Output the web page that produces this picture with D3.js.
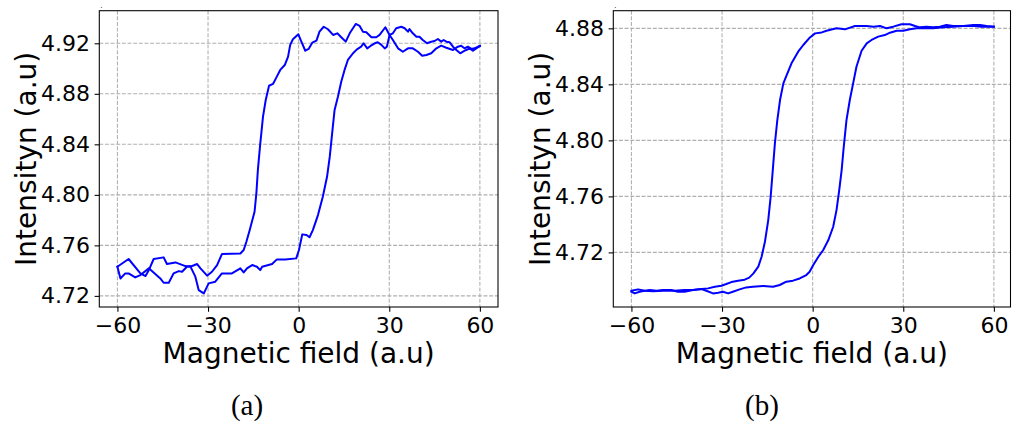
<!DOCTYPE html>
<html>
<head>
<meta charset="utf-8">
<script src="https://cdn.jsdelivr.net/npm/d3@7"></script>
<style>
  html, body { margin: 0; padding: 0; background: #ffffff; }
  svg { display: block; }
</style>
</head>
<body>
<div id="chart"></div>
<script>
// Hysteresis loops: intensity vs. magnetic field, two samples (a) and (b).

// ---- data -------------------------------------------------------------
const fieldTicks = [-60, -30, 0, 30, 60];
const intensityTicksA = [4.72, 4.76, 4.80, 4.84, 4.88, 4.92];
const intensityTicksB = [4.72, 4.76, 4.80, 4.84, 4.88];

// (a) rising sweep
const fieldA_rise = [-60.0, -59.0, -57.4, -56.3, -54.1, -52.4, -49.6, -45.8, -44.7, -43.0, -41.4, -39.7, -38.6, -37.0, -35.9, -34.2, -33.1, -31.4, -29.8, -27.6, -25.4, -22.1, -19.3, -18.2, -17.1, -15.4, -13.8, -12.7, -12.1, -8.8, -7.2, -4.4, -0.8, 0.1, 1.2, 2.6, 3.6, 4.7, 6.4, 8.0, 9.4, 10.3, 11.2, 11.9, 13.0, 14.1, 15.2, 16.3, 18.0, 19.3, 20.7, 21.5, 22.7, 23.8, 25.2, 26.2, 27.4, 28.5, 29.2, 30.1, 31.2, 32.3, 34.0, 35.1, 36.2, 36.7, 37.8, 39.0, 40.0, 41.1, 42.5, 43.9, 45.0, 46.1, 47.2, 48.0, 48.9, 50.0, 51.1, 52.2, 53.5, 54.4, 55.5, 56.6, 57.7, 58.8, 60.0];
const intensityA_rise = [4.7431, 4.7338, 4.7378, 4.7378, 4.7346, 4.7365, 4.7418, 4.7338, 4.7304, 4.7304, 4.7378, 4.7396, 4.7391, 4.7431, 4.7436, 4.7352, 4.7246, 4.7220, 4.7299, 4.7312, 4.7378, 4.7378, 4.7418, 4.7386, 4.7418, 4.7444, 4.7431, 4.7404, 4.7431, 4.7452, 4.7489, 4.7489, 4.7497, 4.7563, 4.7687, 4.7682, 4.7664, 4.7721, 4.7840, 4.7985, 4.8143, 4.8302, 4.8513, 4.8672, 4.8777, 4.8896, 4.8989, 4.9068, 4.9121, 4.9152, 4.9173, 4.9200, 4.9160, 4.9179, 4.9200, 4.9208, 4.9187, 4.9160, 4.9173, 4.9266, 4.9279, 4.9319, 4.9331, 4.9319, 4.9292, 4.9313, 4.9279, 4.9252, 4.9252, 4.9226, 4.9200, 4.9213, 4.9218, 4.9234, 4.9213, 4.9226, 4.9213, 4.9208, 4.9173, 4.9147, 4.9121, 4.9133, 4.9147, 4.9160, 4.9141, 4.9160, 4.9179];

// (a) falling sweep
const fieldA_fall = [-60.0, -56.3, -52.4, -50.7, -49.6, -48.0, -44.7, -43.6, -40.8, -37.5, -35.9, -33.6, -32.5, -30.3, -28.7, -27.0, -25.4, -19.3, -18.2, -17.3, -16.2, -14.6, -14.0, -13.5, -12.7, -11.8, -10.9, -9.8, -8.5, -7.4, -6.1, -4.6, -3.5, -2.8, -1.9, -0.1, 0.9, 2.2, 3.3, 4.5, 5.9, 6.9, 8.3, 9.7, 11.4, 12.8, 14.1, 15.6, 16.9, 18.9, 20.2, 21.3, 22.4, 24.1, 25.7, 26.8, 28.7, 30.1, 31.2, 32.9, 34.5, 36.2, 37.8, 39.5, 40.9, 42.3, 43.9, 45.6, 47.2, 48.9, 51.1, 52.7, 53.8, 54.9, 56.0, 57.2, 58.2, 60.0];
const intensityA_fall = [4.7431, 4.7492, 4.7378, 4.7357, 4.7404, 4.7492, 4.7505, 4.7452, 4.7465, 4.7436, 4.7431, 4.7452, 4.7418, 4.7360, 4.7391, 4.7444, 4.7531, 4.7536, 4.7563, 4.7629, 4.7721, 4.7866, 4.8012, 4.8197, 4.8408, 4.8619, 4.8751, 4.8864, 4.8878, 4.8928, 4.8989, 4.9028, 4.9094, 4.9187, 4.9232, 4.9271, 4.9213, 4.9141, 4.9155, 4.9205, 4.9221, 4.9292, 4.9331, 4.9311, 4.9266, 4.9279, 4.9248, 4.9213, 4.9279, 4.9353, 4.9337, 4.9292, 4.9287, 4.9248, 4.9248, 4.9266, 4.9327, 4.9266, 4.9226, 4.9160, 4.9133, 4.9160, 4.9160, 4.9133, 4.9102, 4.9107, 4.9121, 4.9160, 4.9181, 4.9165, 4.9147, 4.9173, 4.9181, 4.9160, 4.9173, 4.9155, 4.9160, 4.9179];

// (b) rising sweep
const fieldB_rise = [-60.0, -58.9, -57.3, -55.6, -53.9, -51.7, -49.5, -46.8, -44.6, -42.4, -39.6, -36.8, -35.2, -33.0, -31.3, -29.7, -28.0, -26.4, -24.2, -22.0, -19.8, -16.4, -13.1, -10.9, -8.7, -6.5, -4.3, -2.1, -1.0, 0.2, 1.9, 3.5, 5.2, 6.8, 7.9, 8.8, 9.6, 10.3, 11.2, 12.3, 13.4, 14.5, 16.2, 17.9, 19.5, 21.7, 23.9, 25.6, 27.8, 30.0, 32.2, 34.4, 37.7, 39.9, 43.2, 46.5, 49.9, 53.2, 55.9, 60.0];
const intensityB_rise = [4.6919, 4.6907, 4.6919, 4.6926, 4.6931, 4.6926, 4.6931, 4.6931, 4.6919, 4.6919, 4.6931, 4.6938, 4.6926, 4.6907, 4.6912, 4.6919, 4.6907, 4.6919, 4.6936, 4.6950, 4.6955, 4.6960, 4.6955, 4.6967, 4.6991, 4.6998, 4.7014, 4.7038, 4.7062, 4.7110, 4.7169, 4.7217, 4.7288, 4.7383, 4.7502, 4.7645, 4.7788, 4.7955, 4.8145, 4.8288, 4.8407, 4.8526, 4.8640, 4.8693, 4.8717, 4.8741, 4.8752, 4.8769, 4.8783, 4.8783, 4.8793, 4.8800, 4.8800, 4.8800, 4.8807, 4.8812, 4.8817, 4.8817, 4.8812, 4.8812];

// (b) falling sweep
const fieldB_fall = [-60.0, -57.8, -55.6, -52.8, -49.5, -45.7, -42.4, -39.6, -36.8, -34.6, -32.4, -30.2, -28.6, -26.9, -24.7, -22.5, -21.0, -19.6, -18.0, -16.9, -15.8, -14.7, -13.9, -13.2, -12.5, -11.7, -10.8, -9.7, -8.6, -7.0, -4.8, -3.1, -0.9, 0.8, 3.0, 4.6, 7.9, 10.7, 14.0, 17.9, 20.1, 22.3, 24.5, 26.7, 29.4, 32.2, 33.9, 35.5, 37.7, 39.9, 42.1, 44.3, 46.5, 49.9, 53.2, 55.4, 57.6, 60.0];
const intensityB_fall = [4.6926, 4.6936, 4.6926, 4.6922, 4.6926, 4.6926, 4.6931, 4.6931, 4.6938, 4.6943, 4.6955, 4.6962, 4.6974, 4.6988, 4.6998, 4.7005, 4.7020, 4.7050, 4.7098, 4.7169, 4.7276, 4.7431, 4.7598, 4.7788, 4.7978, 4.8145, 4.8288, 4.8407, 4.8466, 4.8550, 4.8633, 4.8681, 4.8735, 4.8764, 4.8771, 4.8783, 4.8800, 4.8793, 4.8817, 4.8817, 4.8812, 4.8817, 4.8800, 4.8812, 4.8829, 4.8829, 4.8817, 4.8807, 4.8812, 4.8807, 4.8812, 4.8824, 4.8817, 4.8817, 4.8824, 4.8824, 4.8817, 4.8812];

const xLabel = "Magnetic field (a.u)";
const yLabel = "Intensityn (a.u)";
const captions = ["(a)", "(b)"];

// ---- layout -----------------------------------------------------------
const W = 1013, H = 423;
const panels = [
  {
    box: { left: 99.3, right: 498, top: 10.7, bottom: 307 },
    xDomain: [-66, 66], yDomain: [4.7112, 4.9458],
    yTicks: intensityTicksA,
    series: [[fieldA_rise, intensityA_rise], [fieldA_fall, intensityA_fall]],
    caption: captions[0], captionX: 247
  },
  {
    box: { left: 613.3, right: 1010.5, top: 10.7, bottom: 307 },
    xDomain: [-66, 65.5], yDomain: [4.681, 4.8926],
    yTicks: intensityTicksB,
    series: [[fieldB_rise, intensityB_rise], [fieldB_fall, intensityB_fall]],
    caption: captions[1], captionX: 762
  }
];

const sans = "'DejaVu Sans', sans-serif";
const serif = "'Liberation Serif', 'DejaVu Serif', serif";
const tickFont = 22, labelFont = 28, captionFont = 29;
const tickLen = 4.7, tickPad = 4.7;

const svg = d3.select("#chart").append("svg")
  .attr("width", W).attr("height", H)
  .attr("viewBox", `0 0 ${W} ${H}`);
svg.append("rect").attr("width", W).attr("height", H).attr("fill", "#ffffff");

panels.forEach(p => {
  const b = p.box;
  const x = d3.scaleLinear().domain(p.xDomain).range([b.left, b.right]);
  const y = d3.scaleLinear().domain(p.yDomain).range([b.bottom, b.top]);
  const g = svg.append("g");

  // grid
  const grid = g.append("g")
    .attr("stroke", "#b0b0b0").attr("stroke-width", 1.07)
    .attr("stroke-dasharray", "3.95,1.7").attr("fill", "none");
  fieldTicks.forEach(t => grid.append("line")
    .attr("x1", x(t)).attr("x2", x(t)).attr("y1", b.top).attr("y2", b.bottom));
  p.yTicks.forEach(t => grid.append("line")
    .attr("y1", y(t)).attr("y2", y(t)).attr("x1", b.left).attr("x2", b.right));

  // curves
  const line = d3.line().x(d => x(d[0])).y(d => y(d[1]));
  p.series.forEach(([xs, ys]) => {
    g.append("path")
      .datum(xs.map((v, i) => [v, ys[i]]))
      .attr("d", line)
      .attr("fill", "none")
      .attr("stroke", "#0000ff")
      .attr("stroke-width", 2)
      .attr("stroke-linejoin", "round")
      .attr("stroke-linecap", "square");
  });

  // axes
  const xAxis = d3.axisBottom(x).tickValues(fieldTicks)
    .tickFormat(d3.format("d")).tickSize(tickLen).tickPadding(tickPad);
  const yAxis = d3.axisLeft(y).tickValues(p.yTicks)
    .tickFormat(d3.format(".2f")).tickSize(tickLen).tickPadding(tickPad);

  const gx = g.append("g").attr("transform", `translate(0,${b.bottom})`).call(xAxis);
  const gy = g.append("g").attr("transform", `translate(${b.left},0)`).call(yAxis);
  [gx, gy].forEach(ax => {
    ax.select(".domain").remove();
    ax.selectAll(".tick line").attr("stroke", "#000").attr("stroke-width", 1.07);
    ax.selectAll(".tick text").attr("fill", "#000")
      .style("font-family", sans).style("font-size", tickFont + "px");
  });
  gx.selectAll(".tick text").attr("dy", "0.74em");

  // frame
  g.append("rect")
    .attr("x", b.left).attr("y", b.top)
    .attr("width", b.right - b.left).attr("height", b.bottom - b.top)
    .attr("fill", "none").attr("stroke", "#000").attr("stroke-width", 1.07);

  // small offset marker above the frame
  g.append("text").attr("x", b.left + 1).attr("y", b.top - 3)
    .style("font-family", sans).style("font-size", "7px").text(".");

  // labels
  const cx = (b.left + b.right) / 2, cy = (b.top + b.bottom) / 2;
  g.append("text")
    .attr("x", cx).attr("y", 363)
    .attr("text-anchor", "middle")
    .style("font-family", sans).style("font-size", labelFont + "px")
    .text(xLabel);
  g.append("text")
    .attr("transform", `translate(${b.left - 73},${cy}) rotate(-90)`)
    .attr("text-anchor", "middle").attr("dy", "0.36em")
    .style("font-family", sans).style("font-size", labelFont + "px")
    .text(yLabel);

  // sub-figure caption
  g.append("text")
    .attr("x", p.captionX).attr("y", 415)
    .attr("text-anchor", "middle")
    .style("font-family", serif).style("font-size", captionFont + "px")
    .text(p.caption);
});
</script>
</body>
</html>
